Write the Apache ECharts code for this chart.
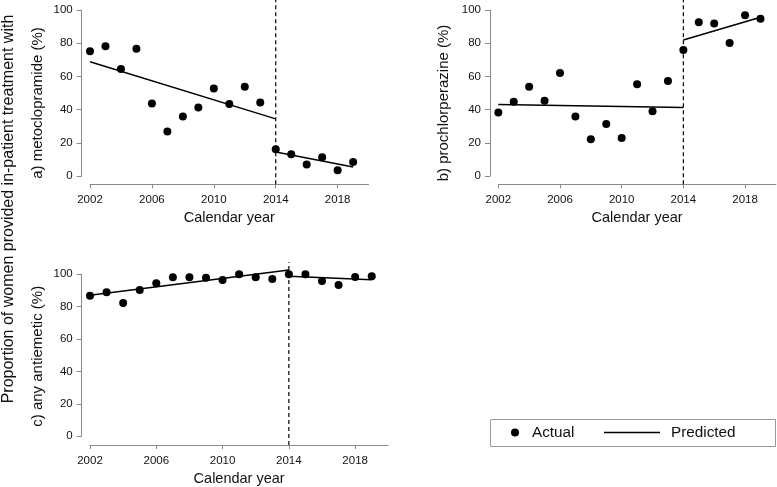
<!DOCTYPE html>
<html><head><meta charset="utf-8">
<script src="https://cdn.jsdelivr.net/npm/echarts@6/dist/echarts.min.js"></script>
<style>html,body{margin:0;padding:0;background:#fff}#c{width:777px;height:487px}</style>
</head><body><div id="c"></div>
<script>
// ---- data ----
const years = [2002,2003,2004,2005,2006,2007,2008,2009,2010,2011,2012,2013,2014,2015,2016,2017,2018,2019];
const metoclopramide   = [75.2,78.1,64.4,76.7,43.7,26.8,35.8,41.2,52.7,43.3,53.7,44.3,16.1,13.1,7.0,11.3,3.4,8.5];
const prochlorperazine = [38.2,44.7,53.7,45.3,62.0,35.8,22.1,31.4,22.9,55.3,39.0,57.3,75.9,92.6,91.8,80.1,96.8,94.8];
const antiemetic       = [86.7,88.9,82.3,90.3,94.5,98.2,98.2,97.9,96.5,100.0,98.2,97.1,100.0,100.0,95.9,93.4,98.4,98.8];
// predicted segments: [pre start, pre end, post start, post end]
const predYears = [2002, 2014, 2014, 2019];
const predMetoclopramide   = [68.8, 34.4, 14.5, 5.4];
const predProchlorperazine = [43.1, 41.2, 81.9, 95.6];
const predAntiemetic       = [87.1, 102.7, 98.8, 96.7];
const interruptionYear = 2014;
const xTickLabels = [2002, 2006, 2010, 2014, 2018];
const panelTitles = ['a) metoclopramide (%)', 'b) prochlorperazine (%)', 'c) any antiemetic (%)'];
const xTitle = 'Calendar year';
const mainTitle = 'Proportion of women provided in-patient treatment with';
const legendNames = ['Actual', 'Predicted'];

// ---- layout ----
const FONT = '"Liberation Sans", Arial, Helvetica, sans-serif';
const panels = [
  {left: 90,    top: 10,    width: 278.6, height: 166, yOff: 8.3, xOff: 8.3, nameGap: 36, nameShift: 20, dashTop: 106,   actual: metoclopramide,   pred: predMetoclopramide},
  {left: 498.3, top: 10,    width: 277.6, height: 166, yOff: 8.3, xOff: 8.3, nameGap: 39, nameShift: 20, dashTop: 106,   actual: prochlorperazine, pred: predProchlorperazine},
  {left: 90,    top: 274.3, width: 298.3, height: 162, yOff: 8.3, xOff: 8.7, nameGap: 36, nameShift: 2,  dashTop: 107.5, actual: antiemetic,       pred: predAntiemetic}
];

const grid = [], xAxis = [], yAxis = [], series = [];
panels.forEach((p, i) => {
  grid.push({left: p.left, top: p.top, width: p.width, height: p.height, outerBoundsMode: 'none', containLabel: false});
  xAxis.push({
    type: 'value', gridIndex: i, min: 2002, max: 2020, interval: 4, offset: p.xOff,
    splitLine: {show: false},
    axisLine: {show: true, onZero: false, lineStyle: {color: '#8a8a8a', width: 1}},
    axisTick: {show: true, length: 4, customValues: xTickLabels, lineStyle: {color: '#8a8a8a'}},
    axisLabel: {customValues: xTickLabels, formatter: v => String(v), fontFamily: FONT, fontSize: 11.5, color: '#111', margin: 10},
    name: xTitle, nameLocation: 'middle', nameGap: 26,
    nameTextStyle: {fontFamily: FONT, fontSize: 14.5, color: '#111'}
  });
  yAxis.push({
    type: 'value', gridIndex: i, min: 0, max: 100, interval: 20, offset: p.yOff,
    splitLine: {show: false},
    axisLine: {show: true, onZero: false, lineStyle: {color: '#8a8a8a', width: 1}},
    axisTick: {show: true, length: 5, lineStyle: {color: '#8a8a8a'}},
    axisLabel: {fontFamily: FONT, fontSize: 11.5, color: '#111', margin: 9},
    name: panelTitles[i], nameLocation: 'middle', nameGap: p.nameGap, nameRotate: 90,
    nameTextStyle: {fontFamily: FONT, fontSize: 15, color: '#111', padding: [0, p.nameShift, 0, 0]}
  });
  series.push({
    name: legendNames[0], type: 'scatter', xAxisIndex: i, yAxisIndex: i, clip: false,
    symbol: 'circle', symbolSize: 8, itemStyle: {color: '#000', opacity: 1},
    data: years.map((y, k) => [y, p.actual[k]])
  });
  series.push({
    name: legendNames[1], type: 'line', xAxisIndex: i, yAxisIndex: i, clip: false,
    symbol: 'none', showSymbol: false, lineStyle: {color: '#000', width: 1.5}, itemStyle: {color: '#000'},
    data: [[predYears[0], p.pred[0]], [predYears[1], p.pred[1]]]
  });
  series.push({
    name: legendNames[1], type: 'line', xAxisIndex: i, yAxisIndex: i, clip: false,
    symbol: 'none', showSymbol: false, lineStyle: {color: '#000', width: 1.5}, itemStyle: {color: '#000'},
    data: [[predYears[2], p.pred[2]], [predYears[3], p.pred[3]]]
  });
  const bottom = -p.xOff / p.height * 100;
  series.push({
    name: 'interruption', type: 'line', xAxisIndex: i, yAxisIndex: i, clip: false,
    symbol: 'none', showSymbol: false, silent: true,
    lineStyle: {color: '#000', width: 1.2, type: [4, 3]},
    data: [[interruptionYear, bottom], [interruptionYear, p.dashTop]]
  });
});

const chart = echarts.init(document.getElementById('c'), null, {renderer: 'canvas'});
chart.setOption({
  backgroundColor: '#fff',
  animation: false,
  grid, xAxis, yAxis, series,
  legend: [
    {data: [{name: legendNames[0], icon: 'circle'}], left: 511, top: 425, padding: 0, selectedMode: false,
     itemWidth: 8, itemHeight: 8, itemStyle: {color: '#000', opacity: 1},
     textStyle: {fontFamily: FONT, fontSize: 15.3, color: '#111', padding: [0, 0, 0, 8]}},
    {data: [{name: legendNames[1], icon: 'rect'}], left: 604, top: 425, padding: 0, selectedMode: false,
     itemWidth: 56, itemHeight: 1.5, itemStyle: {color: '#000'},
     textStyle: {fontFamily: FONT, fontSize: 15.3, color: '#111', padding: [0, 0, 0, 6]}}
  ],
  graphic: [
    {type: 'rect', shape: {x: 490.5, y: 419.5, width: 285, height: 27}, style: {fill: 'none', stroke: '#9a9a9a', lineWidth: 1}, silent: true},
    {type: 'text', x: 9, y: 209, rotation: Math.PI / 2, silent: true,
     style: {text: mainTitle, font: '16px ' + FONT, fill: '#111', align: 'center', verticalAlign: 'middle'}}
  ]
});
</script>
</body></html>
